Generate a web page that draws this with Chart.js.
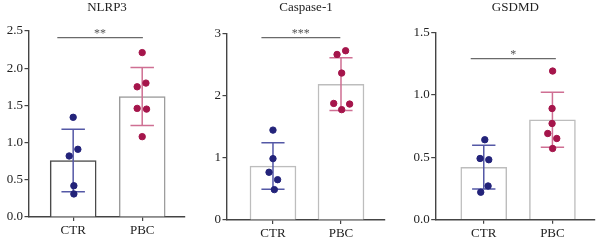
<!DOCTYPE html>
<html>
<head>
<meta charset="utf-8">
<script src="https://cdn.jsdelivr.net/npm/chart.js@4.4.1/dist/chart.umd.min.js"></script>
<style>
    html, body { margin: 0; padding: 0; background: #fff; }
    #wrap { position: relative; width: 600px; height: 246px; }
    .panel { position: absolute; top: 0; width: 200px; height: 246px; }
</style>
</head>
<body>
<div id="wrap">
    <div class="panel" style="left:0"><canvas id="c1"></canvas></div>
    <div class="panel" style="left:200px"><canvas id="c2"></canvas></div>
    <div class="panel" style="left:400px"><canvas id="c3"></canvas></div>
</div>
<script>
// Groups
const groups = ['CTR', 'PBC'];

// NLRP3
const nlrp3Means = [0.76, 1.62];
const nlrp3Sd = [0.42, 0.39];
const nlrp3Ctr = [1.34, 0.91, 0.82, 0.42, 0.31];
const nlrp3Pbc = [2.21, 1.80, 1.75, 1.46, 1.45, 1.08];
const nlrp3Ticks = [0, 0.5, 1.0, 1.5, 2.0, 2.5];

// Caspase-1
const caspMeans = [0.87, 2.19];
const caspSd = [0.375, 0.425];
const caspCtr = [1.45, 0.99, 0.77, 0.65, 0.49];
const caspPbc = [2.73, 2.67, 2.37, 1.88, 1.87, 1.78];
const caspTicks = [0, 1, 2, 3];

// GSDMD
const gsdmdMeans = [0.42, 0.80];
const gsdmdSd = [0.175, 0.22];
const gsdmdCtr = [0.64, 0.49, 0.48, 0.27, 0.22];
const gsdmdPbc = [1.19, 0.89, 0.77, 0.69, 0.65, 0.57];
const gsdmdTicks = [0, 0.5, 1.0, 1.5];

// horizontal scatter of the dots (in group units)
const nlrp3CtrJitter = [0, 0.068, -0.058, 0.01, 0.01];
const nlrp3PbcJitter = [0, 0.054, -0.073, -0.073, 0.063, 0];
const caspCtrJitter = [0, 0, -0.058, 0.068, 0.02];
const caspPbcJitter = [0.068, -0.058, 0.01, -0.107, 0.127, 0.01];
const gsdmdCtrJitter = [0.015, -0.054, 0.073, 0.063, -0.044];
const gsdmdPbcJitter = [0.003, -0.005, -0.005, -0.068, 0.063, 0.003];

const FONT = "'Liberation Serif', 'DejaVu Serif', serif";
const AXIS = '#444';
const CTR_DOT = '#23237a';
const PBC_DOT = '#a5154b';
const CTR_ERR = '#5458a6';
const PBC_ERR = '#cf6f93';
const CAP = 0.17;

// Error bar as one broken line: stem + two caps
function errorLine(x, mean, sd) {
    const hi = mean + sd, lo = mean - sd;
    return [
        { x: x, y: lo }, { x: x, y: hi }, { x: x, y: null },
        { x: x - CAP, y: hi }, { x: x + CAP, y: hi }, { x: x, y: null },
        { x: x - CAP, y: lo }, { x: x + CAP, y: lo }
    ];
}

function dots(values, x, jitter) {
    return values.map((v, i) => ({ x: x + jitter[i], y: v }));
}

// Stars above the bracket
const starsPlugin = {
    id: 'stars',
    afterDatasetsDraw(chart, args, opts) {
        const { ctx, scales } = chart;
        const px = scales.x.getPixelForValue((opts.x1 + opts.x2) / 2);
        const py = scales.y.getPixelForValue(opts.y);
        ctx.save();
        ctx.fillStyle = '#555';
        ctx.font = '12px ' + FONT;
        ctx.textAlign = 'center';
        ctx.textBaseline = 'alphabetic';
        ctx.fillText(opts.text, px, py - 1);
        ctx.restore();
    }
};

function makePanel(id, cfg) {
    const ctx = document.getElementById(id).getContext('2d');
    return new Chart(ctx, {
        type: 'bar',
        data: {
            datasets: [
                {
                    type: 'scatter',
                    data: dots(cfg.ctr, 0, cfg.ctrJitter),
                    backgroundColor: CTR_DOT,
                    borderColor: CTR_DOT,
                    pointRadius: 3.2,
                    order: 0
                },
                {
                    type: 'scatter',
                    data: dots(cfg.pbc, 1, cfg.pbcJitter),
                    backgroundColor: PBC_DOT,
                    borderColor: PBC_DOT,
                    pointRadius: 3.2,
                    order: 0
                },
                {
                    type: 'line',
                    data: errorLine(0, cfg.means[0], cfg.sd[0]),
                    borderColor: CTR_ERR,
                    borderWidth: 1.5,
                    pointRadius: 0,
                    spanGaps: false,
                    order: 1
                },
                {
                    type: 'line',
                    data: errorLine(1, cfg.means[1], cfg.sd[1]),
                    borderColor: PBC_ERR,
                    borderWidth: 1.5,
                    pointRadius: 0,
                    spanGaps: false,
                    order: 1
                },
                {
                    type: 'line',
                    data: [{ x: cfg.sig.x1, y: cfg.sig.y }, { x: cfg.sig.x2, y: cfg.sig.y }],
                    borderColor: '#6a6a6a',
                    borderWidth: 1.2,
                    pointRadius: 0,
                    order: 1
                },
                {
                    type: 'bar',
                    data: [{ x: 0, y: cfg.means[0] }, { x: 1, y: cfg.means[1] }],
                    backgroundColor: '#ffffff',
                    borderColor: cfg.barColors,
                    borderWidth: 1.5,
                    barThickness: 46,
                    order: 2
                }
            ]
        },
        options: {
            responsive: true,
            maintainAspectRatio: false,
            animation: false,
            layout: { padding: { left: 0, right: cfg.padRight, top: 0, bottom: 0 } },
            plugins: {
                legend: { display: false },
                tooltip: { enabled: false },
                title: {
                    display: true,
                    fullSize: false,
                    text: cfg.title,
                    color: '#222',
                    font: { family: FONT, size: 13, weight: 'normal' },
                    padding: { top: 0, bottom: cfg.titleGap }
                },
                stars: { text: cfg.sig.text, x1: cfg.sig.x1, x2: cfg.sig.x2, y: cfg.sig.y }
            },
            scales: {
                x: {
                    type: 'linear',
                    offset: false,
                    min: cfg.xMin,
                    max: cfg.xMax,
                    afterBuildTicks: (s) => { s.ticks = groups.map((g, i) => ({ value: i })); },
                    afterFit: (s) => { s.height = cfg.xHeight; },
                    ticks: {
                        callback: (v) => groups[v],
                        color: '#222',
                        font: { family: FONT, size: 13 },
                        padding: 2,
                        maxRotation: 0
                    },
                    grid: { offset: false, drawOnChartArea: false, drawTicks: true, tickLength: 4, color: AXIS, lineWidth: 1.2 },
                    border: { display: true, color: AXIS, width: 1.4 }
                },
                y: {
                    min: cfg.ticks[0],
                    max: cfg.ticks[cfg.ticks.length - 1],
                    afterBuildTicks: (s) => { s.ticks = cfg.ticks.map(v => ({ value: v })); },
                    afterFit: (s) => { s.width = cfg.yWidth; },
                    ticks: {
                        callback: (v) => v.toFixed(cfg.decimals),
                        color: '#222',
                        font: { family: FONT, size: 13 },
                        padding: 1.5
                    },
                    grid: { drawOnChartArea: false, drawTicks: true, tickLength: 4.5, color: AXIS, lineWidth: 1.2 },
                    border: { display: true, color: AXIS, width: 1.4 }
                }
            }
        },
        plugins: [starsPlugin]
    });
}

makePanel('c1', {
    title: 'NLRP3',
    means: nlrp3Means, sd: nlrp3Sd, ctr: nlrp3Ctr, pbc: nlrp3Pbc,
    ctrJitter: nlrp3CtrJitter, pbcJitter: nlrp3PbcJitter,
    ticks: nlrp3Ticks, decimals: 1,
    barColors: ['#4a4a4a', '#9a9a9a'],
    sig: { text: '**', x1: -0.23, x2: 1.01, y: 2.41 },
    xMin: -0.64, xMax: 1.62,
    yWidth: 29, padRight: 15, xHeight: 29, titleGap: 15.4
});

makePanel('c2', {
    title: 'Caspase-1',
    means: caspMeans, sd: caspSd, ctr: caspCtr, pbc: caspPbc,
    ctrJitter: caspCtrJitter, pbcJitter: caspPbcJitter,
    ticks: caspTicks, decimals: 0,
    barColors: ['#bdbdbd', '#bdbdbd'],
    sig: { text: '***', x1: -0.17, x2: 0.99, y: 2.94 },
    xMin: -0.676, xMax: 1.647,
    yWidth: 27, padRight: 15, xHeight: 26, titleGap: 18.4
});

makePanel('c3', {
    title: 'GSDMD',
    means: gsdmdMeans, sd: gsdmdSd, ctr: gsdmdCtr, pbc: gsdmdPbc,
    ctrJitter: gsdmdCtrJitter, pbcJitter: gsdmdPbcJitter,
    ticks: gsdmdTicks, decimals: 1,
    barColors: ['#bdbdbd', '#bdbdbd'],
    sig: { text: '*', x1: -0.19, x2: 1.05, y: 1.29 },
    xMin: -0.70, xMax: 1.62,
    yWidth: 35.7, padRight: 5, xHeight: 26.3, titleGap: 16.7
});
</script>
</body>
</html>
